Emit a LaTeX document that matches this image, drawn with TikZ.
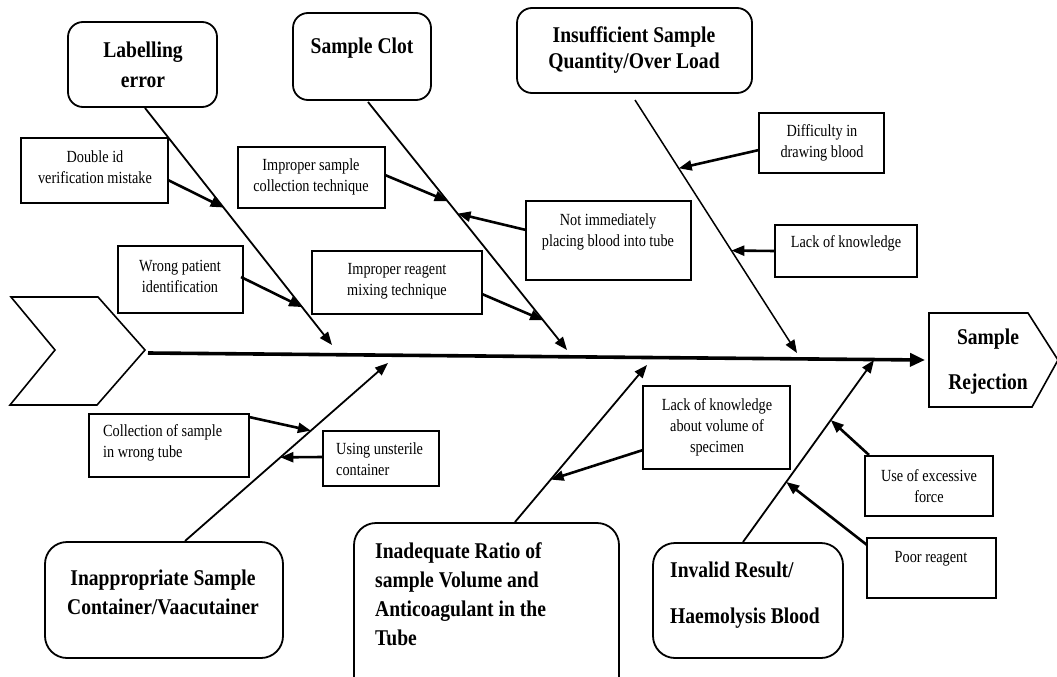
\documentclass[tikz,border=0pt]{standalone}
\usepackage{fontspec}
\setmainfont{Liberation Serif}
\newfontfamily\smallfam[FakeStretch=0.84]{Liberation Serif}
\newfontfamily\bigfam[FakeStretch=0.87]{Liberation Serif}
\usetikzlibrary{arrows.meta,calc,fit}
\begin{document}
\begin{tikzpicture}[x=1pt,y=-1pt,
  sbox/.style={draw,line width=1.3pt,inner sep=0pt},
  rbox/.style={draw,line width=1.8pt,rounded corners=15pt,inner sep=0pt},
  rboxb/.style={draw,line width=1.8pt,rounded corners=22pt,inner sep=0pt},
  stxt/.style={font=\smallfam\fontsize{17}{21}\selectfont,align=center,inner sep=0pt},
  btxt/.style={font=\bigfam\bfseries\fontsize{22.5}{26}\selectfont,align=center,inner sep=0pt},
  bone/.style={line width=1.8pt,-{Triangle[length=13pt,width=10pt]}},
  sub/.style={line width=2.6pt,-{Triangle[length=13pt,width=10pt]}},
]
\useasboundingbox (0,0) rectangle (1057,677);
\clip (0,0) rectangle (1057,677);
\fill[white] (0,0) rectangle (1057,677);

% ---------- head and tail ----------
\draw[line width=1.6pt] (11,297) -- (98,297) -- (145,350) -- (97,405) -- (10,405) -- (55,350) -- cycle;
\draw[line width=1.6pt] (929,313) -- (1028,313) -- (1058,360) -- (1032,407) -- (929,407) -- cycle;
\node[btxt,font=\bigfam\bfseries\fontsize{22.5}{45}\selectfont] (rej) at (988,362) {Sample\\Rejection};

% ---------- spine ----------
\coordinate (sp0) at (148,353);
\coordinate (sp1) at (925,360);
\draw[line width=3.6pt,-{Triangle[length=15pt,width=13pt]}] (sp0) -- (sp1);

% ---------- category boxes ----------
\node[rbox,fit={(68,22) (217,107)}] (lab) {};
\node[btxt,font=\bigfam\bfseries\fontsize{22.5}{30}\selectfont] (labt) at (143,65) {Labelling\\error};
\node[rbox,fit={(293,13) (431,100)}] (clot) {};
\node[btxt] (clott) at (362,48) {Sample Clot};
\node[rbox,fit={(517,8) (752,93)}] (ins) {};
\node[btxt] (inst) at (634,50) {Insufficient Sample\\Quantity/Over Load};
\node[rboxb,fit={(45,542) (283,658)}] (inap) {};
\node[btxt,font=\bigfam\bfseries\fontsize{22.5}{29}\selectfont] (inapt) at (163,592) {Inappropriate Sample\\Container/Vaacutainer};
\node[rboxb,fit={(354,523) (619,705)}] (inad) {};
\node[btxt,font=\bigfam\bfseries\fontsize{22.5}{29}\selectfont,align=left,anchor=west] (inadt) at (375,594) {Inadequate Ratio of\\sample Volume and\\Anticoagulant in the\\Tube};
\node[rboxb,fit={(653,543) (843,658)}] (inv) {};
\node[btxt,font=\bigfam\bfseries\fontsize{22.5}{46}\selectfont,align=left,anchor=west] (invt) at (670,595) {Invalid Result/\\Haemolysis Blood};

% ---------- bones ----------
\coordinate (lab0) at (145,108);  \coordinate (lab1) at (332,345);
\coordinate (clot0) at (368,102); \coordinate (clot1) at (567,350);
\coordinate (ins0) at (635,100);  \coordinate (ins1) at (797,353);
\coordinate (inap0) at (185,541); \coordinate (inap1) at (388,363);
\coordinate (inad0) at (515,522); \coordinate (inad1) at (647,365);
\coordinate (inv0) at (743,542);  \coordinate (inv1) at (874,360);
\draw[bone] (lab0) -- (lab1);
\draw[bone] (clot0) -- (clot1);
\draw[bone,line width=1.5pt] (ins0) -- (ins1);
\draw[bone] (inap0) -- (inap1);
\draw[bone] (inad0) -- (inad1);
\draw[bone] (inv0) -- (inv1);

% ---------- cause boxes ----------
\node[sbox,fit={(21,138) (168,203)}] (dbl) {};
\node[stxt] (dblt) at (95,167) {Double id\\verification mistake};
\node[sbox,fit={(118,246) (243,313)}] (wrg) {};
\node[stxt] (wrgt) at (180,276) {Wrong patient\\identification};
\node[sbox,fit={(238,147) (385,208)}] (ips) {};
\node[stxt] (ipst) at (311,177) {Improper sample\\collection technique};
\node[sbox,fit={(312,251) (482,314)}] (ipr) {};
\node[stxt] (iprt) at (397,281) {Improper reagent\\mixing technique};
\node[sbox,fit={(526,201) (691,280)}] (nim) {};
\node[stxt] (nimt) at (608,232) {Not immediately\\placing blood into tube};
\node[sbox,fit={(759,113) (884,173)}] (dif) {};
\node[stxt] (dift) at (822,143) {Difficulty in\\drawing blood};
\node[sbox,fit={(775,225) (917,277)}] (lok) {};
\node[stxt] (lokt) at (846,243) {Lack of knowledge};
\node[sbox,fit={(89,414) (249,477)}] (col) {};
\node[stxt,align=left,anchor=west] (colt) at (103,443) {Collection of sample\\in wrong tube};
\node[sbox,fit={(323,431) (439,486)}] (uns) {};
\node[stxt,align=left,anchor=west] (unst) at (336,459) {Using unsterile\\container};
\node[sbox,fit={(643,386) (790,469)}] (lkv) {};
\node[stxt] (lkvt) at (717,427) {Lack of knowledge\\about volume of\\specimen};
\node[sbox,fit={(865,456) (993,516)}] (exf) {};
\node[stxt] (exft) at (929,486) {Use of excessive\\force};
\node[sbox,fit={(867,538) (996,598)}] (por) {};
\node[stxt] (port) at (931,559) {Poor reagent};

% ---------- cause arrows ----------
\coordinate (dbls) at (168,180);  \coordinate (dble) at ($(lab0)!0.42!(lab1)$);
\coordinate (wrgs) at (241,277);  \coordinate (wrge) at ($(lab0)!0.84!(lab1)$);
\coordinate (ipss) at (385,175);  \coordinate (ipse) at ($(clot0)!0.40!(clot1)$);
\coordinate (nims) at (526,230);  \coordinate (nime) at ($(clot0)!0.45!(clot1)$);
\coordinate (iprs) at (482,294);  \coordinate (ipre) at ($(clot0)!0.88!(clot1)$);
\coordinate (difs) at (759,150);  \coordinate (dife) at ($(ins0)!0.27!(ins1)$);
\coordinate (loks) at (775,251);  \coordinate (loke) at ($(ins0)!0.595!(ins1)$);
\coordinate (cols) at (249,417);  \coordinate (cole) at ($(inap0)!0.62!(inap1)$);
\coordinate (unss) at (323,457);  \coordinate (unse) at ($(inap0)!0.47!(inap1)$);
\coordinate (lkvs) at (643,450);  \coordinate (lkve) at ($(inad0)!0.27!(inad1)$);
\coordinate (exfs) at (869,455);  \coordinate (exfe) at ($(inv0)!0.67!(inv1)$);
\coordinate (pors) at (867,545);  \coordinate (pore) at ($(inv0)!0.33!(inv1)$);
\draw[sub] (dbls) -- (dble);
\draw[sub] (wrgs) -- (wrge);
\draw[sub] (ipss) -- (ipse);
\draw[sub] (nims) -- (nime);
\draw[sub] (iprs) -- (ipre);
\draw[sub] (difs) -- (dife);
\draw[sub] (loks) -- (loke);
\draw[sub] (cols) -- (cole);
\draw[sub] (unss) -- (unse);
\draw[sub] (lkvs) -- (lkve);
\draw[sub] (exfs) -- (exfe);
\draw[sub] (pors) -- (pore);
\end{tikzpicture}
\end{document}
